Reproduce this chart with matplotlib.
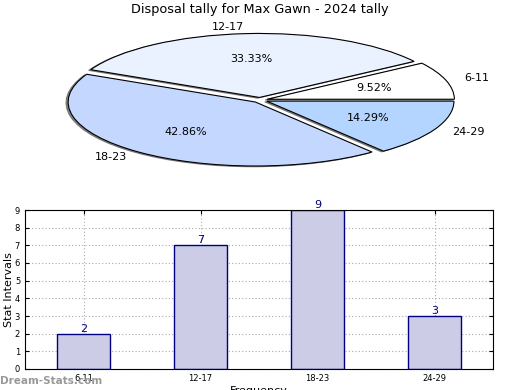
import matplotlib
matplotlib.use("Agg")
import matplotlib.pyplot as plt

categories = ["6-11", "12-17", "18-23", "24-29"]
counts = [2, 7, 9, 3]
pie_colors = ["#FFFFFF", "#EBF2FF", "#C4D8FF", "#B4D5FF"]
title = "Disposal tally for Max Gawn - 2024 tally"

fig = plt.figure(figsize=(5.2, 3.9), dpi=100)

# Pie (elliptical, non-equal aspect)
axp = fig.add_axes([(260 - 234)/520, 1 - 180/390, 468/520, 160/390])
wedges, texts, autotexts = axp.pie(
    counts, labels=categories, colors=pie_colors, explode=[0.04]*4,
    autopct="%1.2f%%", pctdistance=0.6, labeldistance=1.1,
    shadow=dict(ox=-0.008, oy=-0.008, color="#666666", alpha=0.8),
    startangle=0, wedgeprops=dict(edgecolor="black", linewidth=0.8),
    textprops=dict(fontsize=8))
axp.set_aspect("auto")
axp.set_xlim(-1.25, 1.25)
axp.set_ylim(-1.25, 1.25)
fig.text(0.5, 1 - 10/390, title, ha="center", va="center", fontsize=9.3)

# Bar chart
axb = fig.add_axes([25/520, 21/390, 468/520, 159/390])
x = list(range(len(categories)))
axb.bar(x, counts, width=0.45, color="#CCCCE6", edgecolor="#000080", linewidth=1, zorder=2)
for xi, c in zip(x, counts):
    axb.text(xi, c, str(c), ha="center", va="bottom", fontsize=8, color="#000080")
axb.set_xlim(-0.5, 3.5)
axb.set_ylim(0, 9)
axb.set_yticks(range(0, 10))
axb.set_xticks(x)
axb.set_xticklabels(categories)
axb.tick_params(axis="both", labelsize=6, direction="in", length=3, top=True, right=True)
axb.grid(True, linestyle=(0, (1, 2)), color="#AAAAAA", linewidth=0.8, zorder=0)
axb.set_axisbelow(True)
axb.set_ylabel("Stat Intervals", fontsize=8)
axb.yaxis.set_label_coords(-11/468, 0.5)
axb.set_xlabel("Frequency", fontsize=8, labelpad=2)
fig.text(0.0, 1 - 381/390, "Dream-Stats.com", fontsize=7.5, color="#999999",
         fontweight="bold", ha="left", va="center")

fig.savefig("out.png", dpi=100)
